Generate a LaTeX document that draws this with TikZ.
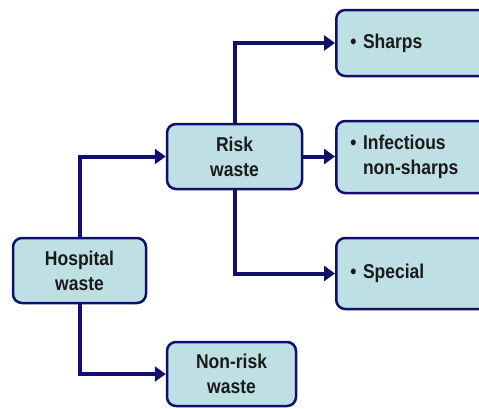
\documentclass[tikz,border=0pt]{standalone}
\usepackage{fontspec}
\setmainfont{Liberation Sans}[FakeStretch=0.875]
\usetikzlibrary{arrows.meta}
\definecolor{boxfill}{HTML}{BEE0E4}
\definecolor{navy}{HTML}{10106A}
\definecolor{txt}{HTML}{1A1A1A}
\tikzset{
  wbox/.style={draw=navy, line width=2.5pt, fill=boxfill, rounded corners=9pt,
    text=txt, font=\fontsize{20pt}{25pt}\selectfont\bfseries, align=center, inner sep=0pt},
  rbox/.style={wbox, align=left, anchor=west, minimum width=160pt, text width=132pt, inner xsep=14pt},
  conn/.style={draw=navy, line width=4pt, -{Triangle[length=11pt,width=15pt]}}
}
\begin{document}
\begin{tikzpicture}[x=1pt,y=-1pt]
\useasboundingbox (0,0) rectangle (479,408);
\clip (0,0) rectangle (479,408);
\node[wbox, minimum width=133pt, minimum height=65pt] (hosp) at (79.5,270.5) {Hospital\\waste};
\node[wbox, minimum width=135pt, minimum height=65pt] (risk) at (234.5,156.5) {Risk\\waste};
\node[wbox, minimum width=129pt, minimum height=64pt] (nonrisk) at (231.5,374) {Non-risk\\waste};
\node[rbox, minimum height=66pt] (sharps) at (335,43) {• Sharps};
\node[rbox, minimum height=72pt] (infect) at (335,157) {• Infectious\\\hphantom{• }non-sharps};
\node[rbox, minimum height=71pt] (special) at (335,273.5) {• Special};
\draw[conn] (hosp.north) |- (risk.west);
\draw[conn] (hosp.south) |- (nonrisk.west);
\draw[conn] (risk.north) |- (sharps.west);
\draw[conn] (risk.east) -- (risk.east -| infect.west);
\draw[conn] (risk.south) |- (special.west);
\end{tikzpicture}
\end{document}
